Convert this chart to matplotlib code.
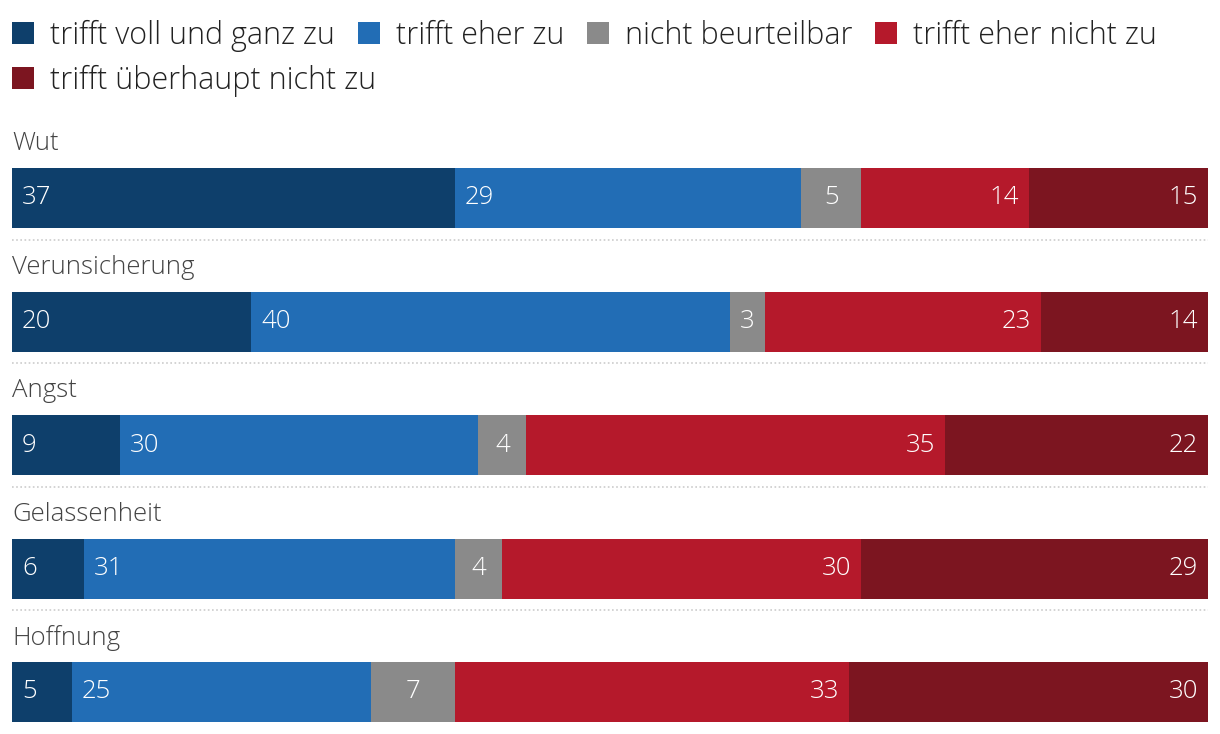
import matplotlib
matplotlib.use("Agg")
import matplotlib.pyplot as plt
from matplotlib.patches import Patch

categories = ["Wut", "Verunsicherung", "Angst", "Gelassenheit", "Hoffnung"]
series = ["trifft voll und ganz zu", "trifft eher zu", "nicht beurteilbar",
          "trifft eher nicht zu", "trifft überhaupt nicht zu"]
voll = [37, 20, 9, 6, 5]
eher = [29, 40, 30, 31, 25]
nicht_beurteilbar = [5, 3, 4, 4, 7]
eher_nicht = [14, 23, 35, 30, 33]
ueberhaupt_nicht = [15, 14, 22, 29, 30]

colors = ["#0e3f6b", "#226db5", "#8a8a8a", "#b5192b", "#7c1520"]
values = [voll, eher, nicht_beurteilbar, eher_nicht, ueberhaupt_nicht]
aligns = ["left", "left", "center", "right", "right"]

plt.rcParams["font.family"] = ["Open Sans", "DejaVu Sans"]

fig = plt.figure(figsize=(12.2, 7.34), dpi=100)
ax = fig.add_axes([12 / 1220, 0, 1196 / 1220, 1])

bar_h = 60 / 123.5
ax.set_xlim(0, 100)
ax.set_ylim(536 / 123.5, -198 / 123.5)
ax.axis("off")

for i, cat in enumerate(categories):
    left = 0
    for j, vals in enumerate(values):
        v = vals[i]
        ax.barh(i, v, left=left, height=bar_h, color=colors[j], linewidth=0)
        if aligns[j] == "left":
            x, dx = left, 10
        elif aligns[j] == "center":
            x, dx = left + v / 2, 0
        else:
            x, dx = left + v, -10
        ax.annotate(str(v), (x, i), xytext=(dx, 0), textcoords="offset pixels",
                    ha=aligns[j], va="center", color="white", fontsize=18.5,
                    fontweight="light")
        left += v
    ax.text(0, i - 0.44, cat, ha="left", va="center", fontsize=18.5,
            color="#444444", fontweight="light")
    if i < len(categories) - 1:
        ax.plot([0, 100], [i + 0.34, i + 0.34], color="#cccccc", lw=1.2,
                linestyle=(0, (1, 1.5)))

handles = [Patch(facecolor=c, edgecolor="none") for c in colors]
leg_kw = dict(loc="center left", frameon=False, handlelength=0.72,
              handleheight=0.72, handletextpad=0.52, columnspacing=0.75,
              borderpad=0, borderaxespad=0, labelcolor="#222222",
              prop={"weight": "light", "size": 22})
leg1 = fig.legend(handles[:4], series[:4], ncol=4,
                  bbox_to_anchor=(12 / 1220, 1 - 36 / 734), **leg_kw)
leg2 = fig.legend(handles[4:], series[4:], ncol=1,
                  bbox_to_anchor=(12 / 1220, 1 - 81 / 734), **leg_kw)

fig.savefig("out.png", dpi=100)
